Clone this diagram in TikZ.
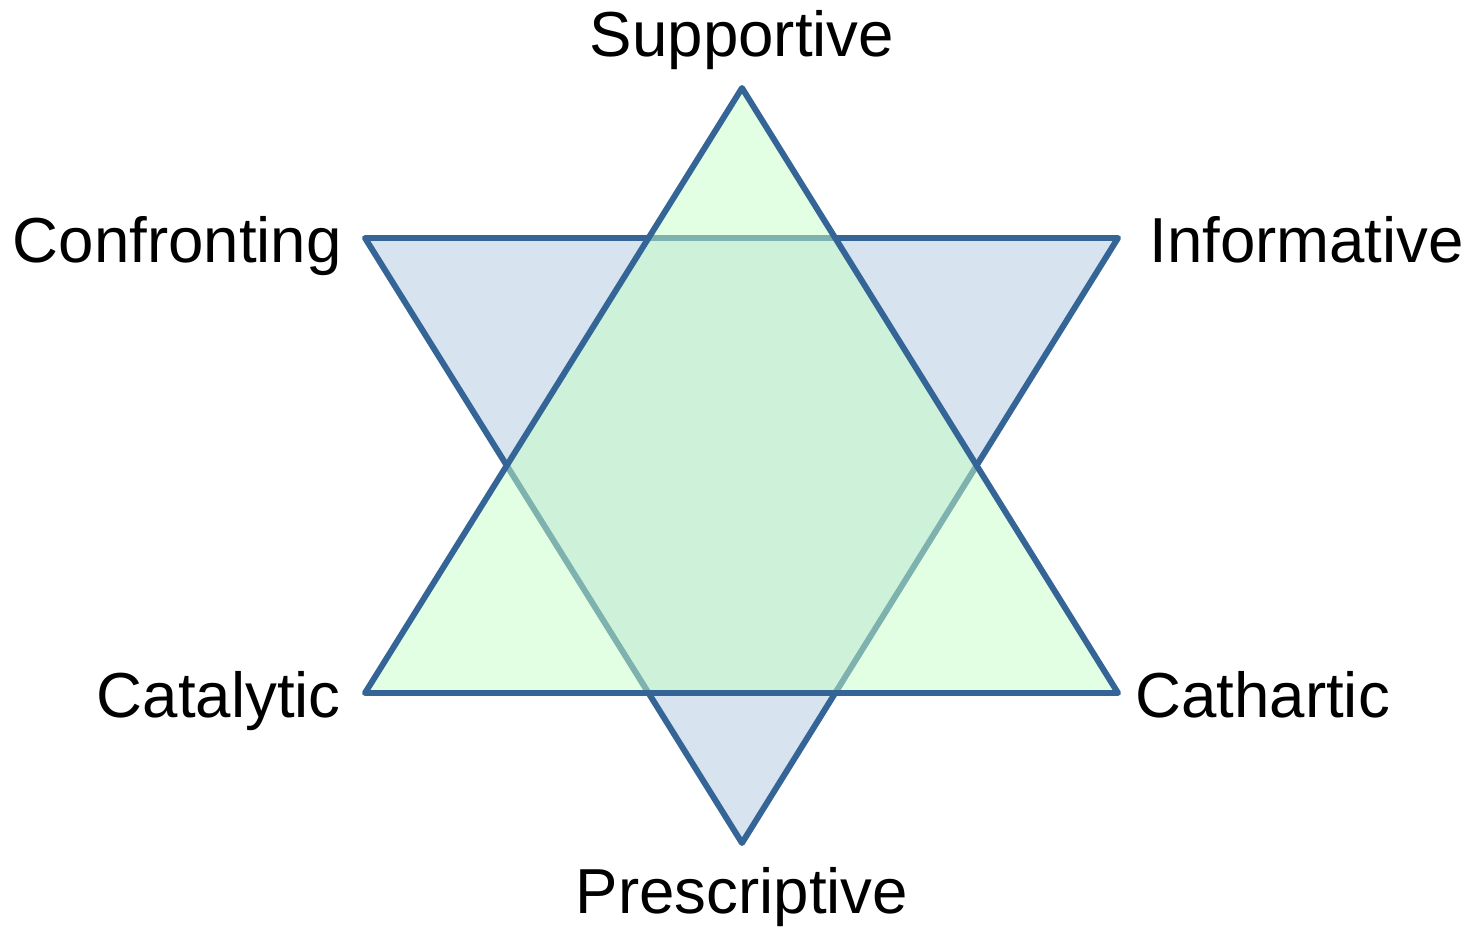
\documentclass[tikz,border=0pt]{standalone}
\usepackage{fontspec}
\setmainfont{Liberation Sans}
\usetikzlibrary{positioning,calc}
\definecolor{edgeblue}{RGB}{52,101,150}
\definecolor{downfill}{RGB}{215,227,239}
\definecolor{upfill}{RGB}{199,255,199}
\tikzset{
  tri/.style   ={draw=edgeblue, line width=3.4pt, line join=round},
  downtri/.style={tri, fill=downfill},
  uptri/.style ={tri, fill=upfill, fill opacity=0.5},
  lbl/.style   ={inner sep=0pt, font=\fontsize{36.2}{40}\selectfont},
}
\begin{document}
\begin{tikzpicture}[x=0.02cm, y=-0.02cm]
  \useasboundingbox (0,0) rectangle (1471,927);
  % corners of the two triangles (pixel grid, y downwards)
  \coordinate (top) at (742,88);
  \coordinate (bl)  at (365,693);
  \coordinate (br)  at (1118,693);
  \coordinate (tl)  at (365,238);
  \coordinate (tr)  at (1118,238);
  \coordinate (bot) at (742,843);

  % pointing down first, the green one lies over it
  \draw[downtri] (tl) -- (tr) -- (bot) -- cycle;
  \draw[uptri]   (top) -- (br) -- (bl) -- cycle;

  % labels at the six points
  \node[lbl, anchor=base]      (sup)  at ($(top)+(0,-32)$)  {Supportive};
  \node[lbl, anchor=base east] (conf) at ($(tl)+(-23,24)$)  {Confronting};
  \node[lbl, anchor=base west] (inf)  at ($(tr)+(31,24)$)   {Informative};
  \node[lbl, anchor=base east] (cata) at ($(bl)+(-24,24)$)  {Catalytic};
  \node[lbl, anchor=base west] (cath) at ($(br)+(17,24)$)   {Cathartic};
  \node[lbl, anchor=base]      (pres) at ($(bot)+(0,70)$)   {Prescriptive};
\end{tikzpicture}
\end{document}
